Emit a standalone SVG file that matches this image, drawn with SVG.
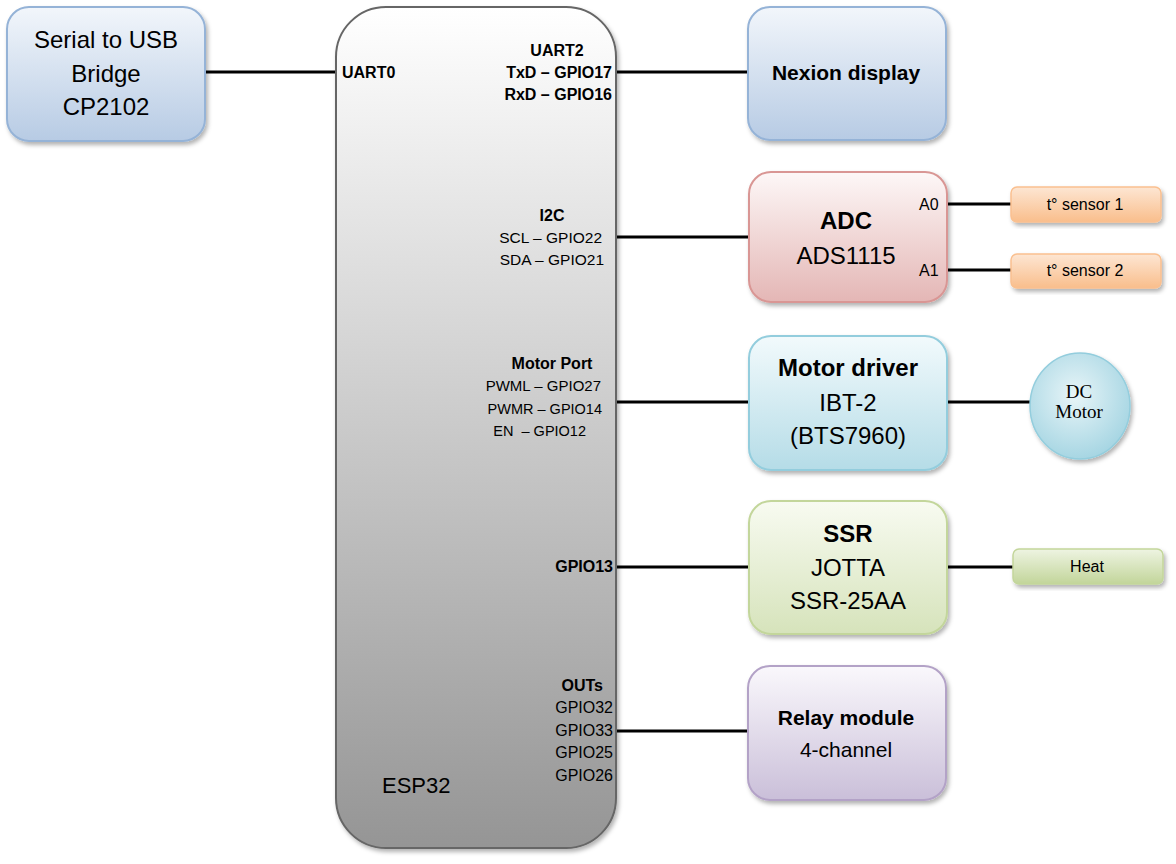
<svg xmlns="http://www.w3.org/2000/svg" width="1176" height="864" viewBox="0 0 1176 864">
<defs>
<linearGradient id="gBlue" x1="0" y1="0" x2="0" y2="1"><stop offset="0" stop-color="#f2f6fb"/><stop offset="1" stop-color="#b7cbe4"/></linearGradient>
<linearGradient id="gEsp" x1="0" y1="0" x2="0" y2="1"><stop offset="0" stop-color="#ffffff"/><stop offset="1" stop-color="#959595"/></linearGradient>
<linearGradient id="gRed" x1="0" y1="0" x2="0" y2="1"><stop offset="0" stop-color="#fdf7f7"/><stop offset="1" stop-color="#e4b6b5"/></linearGradient>
<linearGradient id="gAqua" x1="0" y1="0" x2="0" y2="1"><stop offset="0" stop-color="#f2fafc"/><stop offset="1" stop-color="#b5dce7"/></linearGradient>
<linearGradient id="gGreen" x1="0" y1="0" x2="0" y2="1"><stop offset="0" stop-color="#f8fbf1"/><stop offset="1" stop-color="#d6e3bb"/></linearGradient>
<linearGradient id="gPurple" x1="0" y1="0" x2="0" y2="1"><stop offset="0" stop-color="#faf8fc"/><stop offset="1" stop-color="#cabfd9"/></linearGradient>
<linearGradient id="gOrange" x1="0" y1="0" x2="0" y2="1"><stop offset="0" stop-color="#fde6d3"/><stop offset="1" stop-color="#f9be8c"/></linearGradient>
<linearGradient id="gLime" x1="0" y1="0" x2="0" y2="1"><stop offset="0" stop-color="#eef4e2"/><stop offset="1" stop-color="#c2d59a"/></linearGradient>
<radialGradient id="gMotor" cx="0.45" cy="0.4" r="0.6"><stop offset="0" stop-color="#e8f5f8"/><stop offset="1" stop-color="#a7d6e3"/></radialGradient>
<filter id="sh" x="-10%" y="-10%" width="130%" height="130%"><feDropShadow dx="2" dy="3" stdDeviation="2" flood-color="#000" flood-opacity="0.3"/></filter>
</defs>
<style>
text{font-family:"Liberation Sans",Arial,sans-serif;fill:#000;white-space:pre}
.big{font-size:24px}
.bigb{font-size:24px;font-weight:bold}
.mid{font-size:21px}
.sm{font-size:16px}
.s15{font-size:15.5px}
.b{font-weight:bold}
.m{text-anchor:middle}
.e{text-anchor:end}
.wire{stroke:#000;stroke-width:3;fill:none}
.serif{font-family:"Liberation Serif","Times New Roman",serif;font-size:19px}
</style>
<g id="connectors">
<line class="wire" x1="205" y1="72" x2="336" y2="72"/>
<line class="wire" x1="616" y1="72" x2="748" y2="72"/>
<line class="wire" x1="616" y1="237" x2="749" y2="237"/>
<line class="wire" x1="947" y1="204" x2="1011" y2="204"/>
<line class="wire" x1="947" y1="270" x2="1011" y2="270"/>
<line class="wire" x1="616" y1="402" x2="749" y2="402"/>
<line class="wire" x1="947" y1="402" x2="1030" y2="402"/>
<line class="wire" x1="616" y1="567" x2="749" y2="567"/>
<line class="wire" x1="947" y1="567" x2="1013" y2="567"/>
<line class="wire" x1="616" y1="731" x2="748" y2="731"/>
</g>
<g id="serial">
<rect x="7" y="7" width="198" height="134" rx="22" fill="url(#gBlue)" stroke="#95b3d7" stroke-width="2" filter="url(#sh)"/>
<text class="big m" x="106" y="48">Serial to USB</text>
<text class="big m" x="106" y="82">Bridge</text>
<text class="big m" x="106" y="115">CP2102</text>
</g>
<g id="esp32">
<rect x="336" y="7" width="280" height="841" rx="50" fill="url(#gEsp)" stroke="#666" stroke-width="2" filter="url(#sh)"/>
<text class="sm b" x="342" y="78">UART0</text>
<text class="sm b m" x="557" y="56">UART2</text>
<text class="sm b e" x="612" y="78">TxD – GPIO17</text>
<text class="sm b e" x="612" y="100">RxD – GPIO16</text>
<text class="sm b m" x="552" y="221">I2C</text>
<text class="s15 e" x="602" y="243">SCL – GPIO22</text>
<text class="s15 e" x="604" y="265">SDA – GPIO21</text>
<text class="sm b m" x="552" y="369">Motor Port</text>
<text class="e" x="601" y="391" style="font-size:15px">PWML – GPIO27</text>
<text class="e" x="602" y="414" style="font-size:14.5px">PWMR – GPIO14</text>
<text class="e" x="586" y="436" style="font-size:14.5px">EN  – GPIO12</text>
<text class="sm b e" x="613" y="572">GPIO13</text>
<text class="sm b e" x="603" y="691">OUTs</text>
<text class="sm e" x="613" y="713">GPIO32</text>
<text class="sm e" x="613" y="736">GPIO33</text>
<text class="sm e" x="613" y="758">GPIO25</text>
<text class="sm e" x="613" y="781">GPIO26</text>
<text x="382" y="793" style="font-size:22px">ESP32</text>
</g>
<g id="nextion">
<rect x="748" y="7" width="198" height="133" rx="22" fill="url(#gBlue)" stroke="#95b3d7" stroke-width="2" filter="url(#sh)"/>
<text class="mid b m" x="846" y="80">Nexion display</text>
</g>
<g id="adc">
<rect x="749" y="172" width="198" height="130" rx="22" fill="url(#gRed)" stroke="#d99694" stroke-width="2" filter="url(#sh)"/>
<text class="bigb m" x="846" y="229">ADC</text>
<text class="big m" x="846" y="264">ADS1115</text>
<text class="sm" x="919" y="210">A0</text>
<text class="sm" x="919" y="276">A1</text>
</g>
<g id="sensor1">
<rect x="1011" y="187" width="150" height="35" rx="6" fill="url(#gOrange)" stroke="#fac090" stroke-width="1.5" filter="url(#sh)"/>
<text class="sm m" x="1085" y="210">t° sensor 1</text>
</g>
<g id="sensor2">
<rect x="1011" y="254" width="150" height="34" rx="6" fill="url(#gOrange)" stroke="#fac090" stroke-width="1.5" filter="url(#sh)"/>
<text class="sm m" x="1085" y="276">t° sensor 2</text>
</g>
<g id="motordriver">
<rect x="749" y="336" width="198" height="134" rx="22" fill="url(#gAqua)" stroke="#93cddd" stroke-width="2" filter="url(#sh)"/>
<text class="bigb m" x="848" y="376">Motor driver</text>
<text class="big m" x="848" y="411">IBT-2</text>
<text class="big m" x="848" y="444">(BTS7960)</text>
</g>
<g id="dcmotor">
<ellipse cx="1080" cy="406" rx="50" ry="53" fill="url(#gMotor)" stroke="#93cddd" stroke-width="1.5" filter="url(#sh)"/>
<text class="serif m" x="1079" y="398">DC</text>
<text class="serif m" x="1079" y="418">Motor</text>
</g>
<g id="ssr">
<rect x="749" y="501" width="198" height="133" rx="22" fill="url(#gGreen)" stroke="#c3d69b" stroke-width="2" filter="url(#sh)"/>
<text class="bigb m" x="848" y="542">SSR</text>
<text class="big m" x="848" y="576">JOTTA</text>
<text class="big m" x="848" y="609">SSR-25AA</text>
</g>
<g id="heat">
<rect x="1013" y="549" width="150" height="35" rx="6" fill="url(#gLime)" stroke="#c3d69b" stroke-width="1.5" filter="url(#sh)"/>
<text class="sm m" x="1087" y="572">Heat</text>
</g>
<g id="relay">
<rect x="748" y="666" width="198" height="134" rx="22" fill="url(#gPurple)" stroke="#b3a2c7" stroke-width="2" filter="url(#sh)"/>
<text class="mid b m" x="846" y="725">Relay module</text>
<text class="mid m" x="846" y="757">4-channel</text>
</g>
</svg>
